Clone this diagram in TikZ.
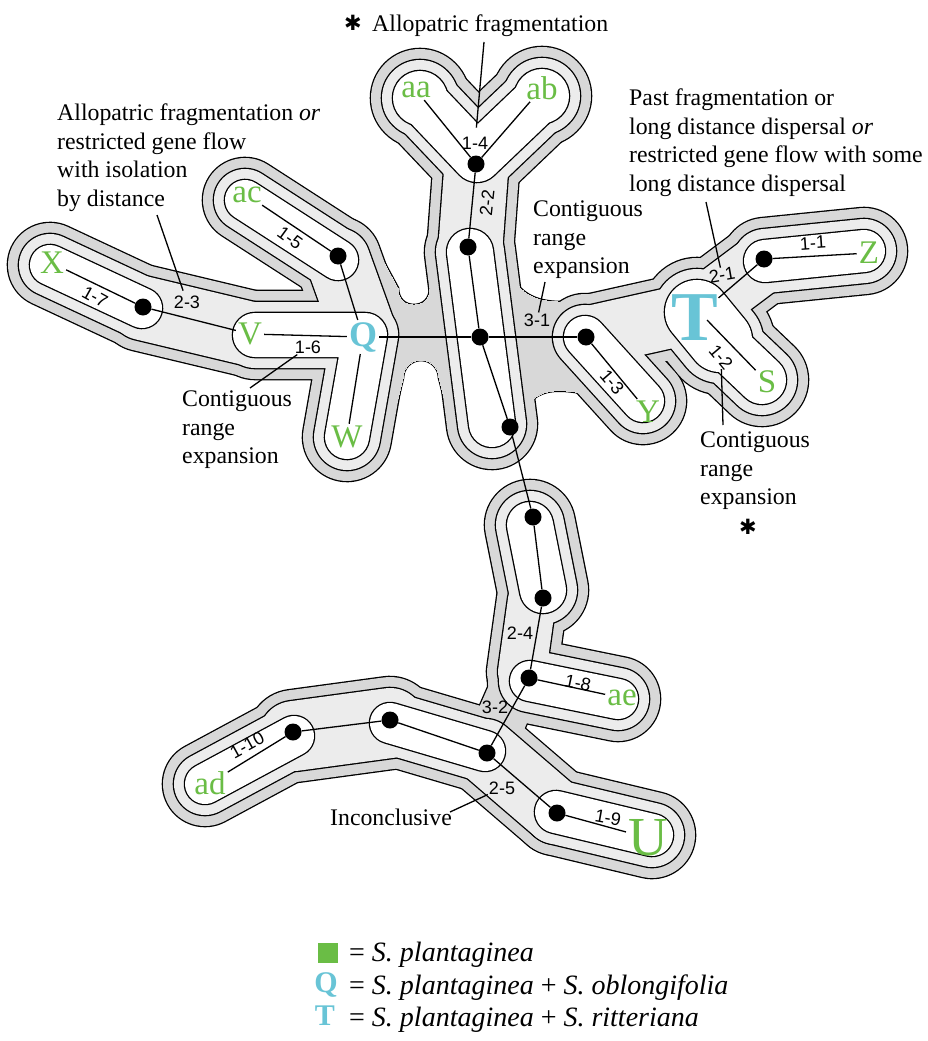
\documentclass[tikz,border=0pt]{standalone}
\usepackage{fontspec}
\setmainfont{Liberation Serif}
\newfontfamily\sansf{Liberation Sans}
\newfontfamily\djv{DejaVu Sans}
\usetikzlibrary{calc}
\definecolor{gA}{RGB}{106,189,69}
\definecolor{cA}{RGB}{104,196,214}
\definecolor{gThree}{RGB}{216,216,216}
\definecolor{gTwo}{RGB}{236,236,236}
\colorlet{cur}{black}
\newcommand\cladeext{0pt}
\newcommand\cladeset[2]{\renewcommand\cladeext{#1}\colorlet{cur}{#2}}
\newcommand\cladesk[2]{\draw[line width={#1+\cladeext},draw=cur,line cap=round,line join=round] #2;}
\newcommand\cladepath[1]{\filldraw[fill=cur,draw=cur,line width={\cladeext-44pt},line join=round] #1;}
% one-step clades
\newcommand\LvOne{%
 \cladesk{40pt}{(50,265)--(142,308)}%
 \cladesk{40pt}{(245,200)--(338,260)}%
 \cladesk{44pt}{(255,335)--(365,335)--(347,437)}%
 \cladesk{48pt}{(420,98)--(477,158)--(542,96)}%
 \cladesk{54pt}{(420,98)--(420.5,98.5)}%
 \cladesk{54pt}{(542,96)--(541.5,96.5)}%
 \cladesk{46pt}{(470,252)--(492,424)}%
 \cladesk{42pt}{(585,337)--(643,401)}%
 \cladesk{64pt}{(697,312)--(720,340)}%
 \cladesk{48pt}{(720,340)--(762,380)}%
 \cladesk{42pt}{(765,261)--(864,251)}%
 \cladesk{46pt}{(530,525)--(543,590)}%
 \cladesk{40pt}{(530,681)--(618,699)}%
 \cladesk{40pt}{(205,784)--(294,736)}%
 \cladesk{40pt}{(390,723)--(485,751)}%
 \cladesk{42pt}{(556,812)--(652,835)}%
}
% two-step bridges
\newcommand\LvTwo{%
 \cladesk{42pt}{(142,308)--(255,335)}%
 \cladesk{42pt}{(338,260)--(365,335)}%
 \cladesk{42pt}{(477,158)--(470,252)}%
 \cladesk{38pt}{(585,337)--(697,312)--(765,261)}%
 \cladesk{26pt}{(532,600)--(522,672)}%
 \cladesk{48pt}{(294,736)--(390,723)}%
 \cladesk{42pt}{(485,751)--(556,812)}%
}
% three-step bridges
\newcommand\LvThree{%
 \cladepath{(372,240) -- (398,288) .. controls (398,299) and (405,305) .. (414,305) .. controls (423,305) and (430,299) .. (430,288) -- (428,240) -- (455,440) -- (439,378) .. controls (439,368) and (431,360) .. (421,360) .. controls (411,360) and (403,368) .. (403,378) -- (388,440) -- cycle}%
 \cladepath{(505,260) .. controls (520,312) and (560,302) .. (600,300) -- (595,395) .. controls (560,390) and (530,380) .. (515,430) -- cycle}%
 \cladesk{6pt}{(522,672)--(490,745)}%
}
\tikzset{
 dotn/.style={circle,fill=black,inner sep=0pt,minimum size=17pt},
 gl/.style={text=gA,font=\fontsize{33}{33}\selectfont,inner sep=2pt},
 lab/.style={font=\sansf\fontsize{18}{18}\selectfont,inner sep=1pt},
 ann/.style={font=\fontsize{23.8}{28.5}\selectfont,align=left,anchor=north west,inner sep=0pt},
 conn/.style={line width=1.3pt},
 lead/.style={line width=1.3pt},
 astk/.style={font=\djv\fontsize{21}{21}\selectfont,inner sep=0pt},
 leg/.style={anchor=base west,inner sep=0pt,font=\fontsize{28}{28}\selectfont},
}
\begin{document}
\begin{tikzpicture}[x=1pt,y=-1pt]
\useasboundingbox (0,0) rectangle (928,1041);
\fill[white] (0,0) rectangle (928,1041);
% nested clade shapes
\cladeset{46.6pt}{black}\LvOne\LvTwo\LvThree
\cladeset{44pt}{gThree}\LvOne\LvTwo\LvThree
\cladeset{24.6pt}{black}\LvOne\LvTwo
\cladeset{22pt}{gTwo}\LvOne\LvTwo
\cladeset{2.6pt}{black}\LvOne
\cladeset{0pt}{white}\LvOne
% haplotype dots
\node[dotn] (d17) at (143,307) {};
\node[dotn] (d15) at (338,256) {};
\node[dotn] (d14) at (476,164) {};
\node[dotn] (dA) at (468,247) {};
\node[dotn] (dC) at (480,337) {};
\node[dotn] (dB) at (510,427) {};
\node[dotn] (d13) at (586,337) {};
\node[dotn] (d11) at (764,259) {};
\node[dotn] (dU1) at (533,517) {};
\node[dotn] (dU2) at (543,598) {};
\node[dotn] (d18) at (529,678) {};
\node[dotn] (dM2) at (487,753) {};
\node[dotn] (dM1) at (390,720) {};
\node[dotn] (d110) at (293,732) {};
\node[dotn] (d19) at (557,813) {};
% haplotype letters
\node[gl] (X) at (52,263) {X};
\node[gl] (V) at (250,334) {V};
\node[gl,text=cA,font=\bfseries\fontsize{36}{36}\selectfont] (Q) at (363,337) {Q};
\node[gl] (W) at (347,437) {W};
\node[gl] (ac) at (247,195) {ac};
\node[gl] (aa) at (416,90) {aa};
\node[gl] (ab) at (542,88) {ab};
\node[gl] (Y) at (648,412) {Y};
\node[gl,text=cA,font=\bfseries\fontsize{70}{70}\selectfont,inner sep=0pt] (T) at (695,318) {T};
\node[gl] (S) at (767,382) {S};
\node[gl] (Z) at (869,253) {Z};
\node[gl] (ae) at (622,698) {ae};
\node[gl] (ad) at (210,783) {ad};
\node[gl,font=\fontsize{55}{55}\selectfont] (U) at (648,838) {U};
% connectors
\draw[conn] (X) -- (d17);
\draw[conn] (d17) -- (V);
\draw[conn] (V) -- (Q);
\draw[conn] (ac) -- (d15);
\draw[conn] (d15) -- (Q);
\draw[conn] (Q) -- (W);
\draw[conn] (Q) -- (dC);
\draw[conn] (dC) -- (d13);
\draw[conn] (aa) -- (d14);
\draw[conn] (ab) -- (d14);
\draw[conn] (d14) -- (dA);
\draw[conn] (dA) -- (dC);
\draw[conn] (dC) -- (dB);
\draw[conn] (dB) -- (dU1);
\draw[conn] (dU1) -- (dU2);
\draw[conn] (dU2) -- (d18);
\draw[conn] (d18) -- (ae);
\draw[conn] (d18) -- (dM2);
\draw[conn] (dM2) -- (dM1);
\draw[conn] (dM1) -- (d110);
\draw[conn] (d110) -- (ad);
\draw[conn] (dM2) -- (d19);
\draw[conn] (d19) -- (U);
\draw[conn] (d13) -- (Y);
\draw[conn] (T) -- (d11);
\draw[conn] (d11) -- (Z);
\draw[conn] ($(T.center)+(12,2)$) -- (S);
% clade labels
\node[lab,rotate=-29] (l17) at (95,297) {1-7};
\node[lab,rotate=-36] (l15) at (290,238) {1-5};
\node[lab] (l23) at (187,302) {2-3};
\node[lab] (l16) at (308,347) {1-6};
\node[lab] (l14) at (475,143) {1-4};
\node[lab,rotate=84] (l22) at (487,203) {2-2};
\node[lab] (l31) at (537,320) {3-1};
\node[lab,rotate=-49] (l13) at (612,382) {1-3};
\node[lab,rotate=10] (l21) at (722,275) {2-1};
\node[lab,rotate=4] (l11) at (813,243) {1-1};
\node[lab,rotate=-50] (l12) at (721,357) {1-2};
\node[lab] (l24) at (520,633) {2-4};
\node[lab,rotate=-12] (l18) at (578,683) {1-8};
\node[lab] (l32) at (495,707) {3-2};
\node[lab,rotate=29] (l110) at (247,745) {1-10};
\node[lab] (l25) at (502,788) {2-5};
\node[lab,rotate=-10] (l19) at (608,818) {1-9};
% annotations
\node[astk] (ast1) at (353,23) {✱};
\node[anchor=base west,inner sep=0pt,font=\fontsize{23.8}{28.5}\selectfont] (ttl) at (372,32) {Allopatric fragmentation};
\node[ann] (tUL) at (57,103.7) {Allopatric fragmentation \textit{or}\\restricted gene flow\\with isolation\\by distance};
\node[ann] (tUR) at (629,88.7) {Past fragmentation or\\long distance dispersal \textit{or}\\restricted gene flow with some\\long distance dispersal};
\node[ann] (tC1) at (533,200.8) {Contiguous\\range\\expansion};
\node[ann] (tC2) at (182,390.8) {Contiguous\\range\\expansion};
\node[ann] (tC3) at (700,431.8) {Contiguous\\range\\expansion};
\node[astk] (ast2) at (748,527) {✱};
\node[anchor=base west,inner sep=0pt,font=\fontsize{23.8}{28.5}\selectfont] (inc) at (330,825) {Inconclusive};
% leaders
\coordinate (pTtl) at (484,42);
\coordinate (p23) at (157,215);
\coordinate (p16) at (250,388);
\coordinate (p31) at (545,282);
\coordinate (p21) at (706,202);
\coordinate (p12) at (723,425);
\coordinate (p25) at (450,812);
\draw[lead,shorten >=8pt] (pTtl) -- (l14);
\draw[lead,shorten >=4pt] (p23) -- (l23);
\draw[lead] (p16) -- (l16);
\draw[lead] (p31) -- (l31);
\draw[lead] (p21) -- (l21);
\draw[lead] (p12) -- (l12);
\draw[lead] (p25) -- (l25);
% legend
\node[fill=gA,minimum size=20pt,inner sep=0pt] (sq) at (328,953) {};
\node[leg] (lg1) at (349,961) {= \textit{S. plantaginea}};
\node[text=cA,font=\bfseries\fontsize{30}{30}\selectfont,inner sep=0pt] (lgQ) at (326,985) {Q};
\node[leg] (lg2) at (349,994) {= \textit{S. plantaginea} + \textit{S. oblongifolia}};
\node[text=cA,font=\bfseries\fontsize{30}{30}\selectfont,inner sep=0pt] (lgT) at (325,1016) {T};
\node[leg] (lg3) at (349,1026) {= \textit{S. plantaginea} + \textit{S. ritteriana}};
\end{tikzpicture}
\end{document}
